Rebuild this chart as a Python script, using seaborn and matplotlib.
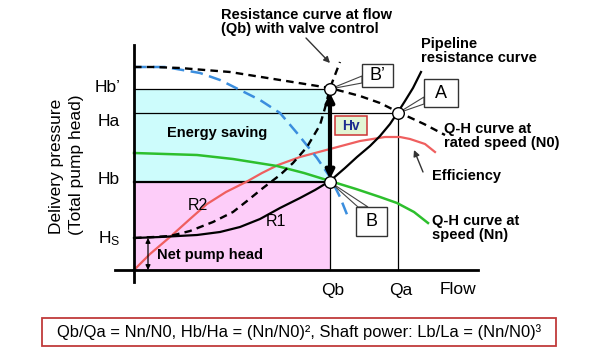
import matplotlib
matplotlib.use("Agg")
import matplotlib.pyplot as plt
import seaborn as sns
from matplotlib.patches import Rectangle, Polygon

# ---------------- data (schematic units: flow, head) ----------------
flow_tick_values = [196, 264]
flow_tick_labels = ["Qb", "Qa"]
head_tick_values = [181, 157, 88, 32]          # Hb', Ha, Hb, Hs
head_tick_labels = ["Hb\u2019", "Ha", "Hb", "H$_\\mathrm{S}$"]

qh_rated_flow = [0, 20, 46, 96, 146, 196, 226, 246, 264, 290, 311]
qh_rated_head = [203, 203, 202, 198, 190, 182, 174, 167, 158, 146, 135]

qh_valve_flow = [0, 31, 66, 86, 104, 126, 146, 163, 183, 196, 206, 214]
qh_valve_head = [203, 203, 197, 190, 181, 170, 157, 137, 112, 93, 73, 53]

qh_nn_flow = [0, 63, 99, 143, 170, 196, 222, 246, 263, 280, 294]
qh_nn_head = [117, 115, 111, 104, 97, 89, 81, 73, 67, 58, 47]

eff_flow = [0, 16, 36, 56, 73, 92, 112, 128, 144, 166, 196, 226, 251, 266, 276, 291, 301]
eff_head = [0, 16, 33, 51, 66, 78, 88, 97, 105, 113, 121, 129, 133, 133, 131, 126, 118]

r1_flow = [0, 26, 63, 86, 106, 126, 146, 166, 181, 196, 211, 223, 236, 246, 256, 264, 271, 279, 287]
r1_head = [32, 33, 35, 38, 43, 51, 62, 72, 80, 89, 102, 113, 124, 134, 146, 158, 169, 182, 198]

r2_flow = [0, 20, 36, 56, 79, 99, 113, 129, 146, 159, 173, 186, 191, 196, 201, 206]
r2_head = [32, 33, 34, 39, 48, 58, 69, 82, 95, 107, 123, 145, 162, 182, 195, 208]

Qb, Qa = flow_tick_values
Hbp, Ha, Hb, Hs = head_tick_values

# ---------------- figure ----------------
plt.rcParams['font.family'] = ['Liberation Sans', 'DejaVu Sans']
plt.rcParams['mathtext.fontset'] = 'custom'
plt.rcParams['mathtext.rm'] = 'Liberation Sans'
plt.rcParams['mathtext.it'] = 'Liberation Sans:italic'

fig = plt.figure(figsize=(6, 3.5), dpi=100)
ax = fig.add_axes([0, 0, 1, 1])
ax.set_xlim(-134, 466)
ax.set_ylim(-80, 270)
ax.axis('off')


def P(x, y):
    """layout helper: figure pixel -> axes units"""
    return (x - 134, 270 - y)


# shaded regions
ax.add_patch(Rectangle((0, 0), Qb, Hb, facecolor='#fdcdf9', edgecolor='none', zorder=0))
ax.add_patch(Rectangle((0, Hb), Qb, Hbp - Hb, facecolor='#cdfcfc', edgecolor='none', zorder=0))

# reference lines
ax.plot([0, Qb], [Hbp, Hbp], color='black', lw=0.9, zorder=1)
ax.plot([0, Qa], [Ha, Ha], color='black', lw=0.9, zorder=1)
ax.plot([0, Qb], [Hb, Hb], color='black', lw=1.6, zorder=1)
ax.plot([Qb, Qb], [0, Hbp], color='black', lw=0.9, zorder=1)
ax.plot([Qa, Qa], [0, Ha], color='black', lw=0.9, zorder=1)

# axes
ax.plot([0, 0], [-12, 225], color='black', lw=2, zorder=5)
ax.plot([-19, 344], [0, 0], color='black', lw=2, zorder=5)

# curves
sns.lineplot(x=eff_flow, y=eff_head, sort=False, estimator=None, ax=ax,
             color='#ef5f5f', lw=1.6, zorder=3)
sns.lineplot(x=qh_nn_flow, y=qh_nn_head, sort=False, estimator=None, ax=ax,
             color='#2dbf2d', lw=1.8, zorder=3)
sns.lineplot(x=qh_valve_flow, y=qh_valve_head, sort=False, estimator=None, ax=ax,
             color='#3b8ede', lw=1.8, linestyle=(0, (5, 2.6)), zorder=3)
sns.lineplot(x=qh_rated_flow, y=qh_rated_head, sort=False, estimator=None, ax=ax,
             color='black', lw=1.7, linestyle=(0, (3.2, 2.2)), zorder=3)
sns.lineplot(x=r2_flow, y=r2_head, sort=False, estimator=None, ax=ax,
             color='black', lw=1.7, linestyle=(0, (3.2, 2.2)), zorder=3)
sns.lineplot(x=r1_flow, y=r1_head, sort=False, estimator=None, ax=ax,
             color='black', lw=1.6, zorder=3)

# thick arrow Hv
ax.annotate('', xy=(Qb, Hbp - 4), xytext=(Qb, Hb + 3),
            arrowprops=dict(arrowstyle='<|-|>', color='black', lw=3, mutation_scale=12,
                            shrinkA=0, shrinkB=0), zorder=4)

# callout wedges and boxes
callouts = [
    ("B\u2019", (Qb, Hbp), [P(362, 76), P(362, 83)], (362, 64, 31, 23)),
    ("A", (Qa, Ha), [P(424, 97), P(424, 104)], (424, 79, 34, 28)),
    ("B", (Qb, Hb), [P(358, 207), P(368, 207)], (356, 207, 31, 29)),
]
for label, pt, edge, (bx, by, bw, bh) in callouts:
    ax.add_patch(Polygon([pt, edge[0], edge[1]], closed=True, facecolor='white',
                         edgecolor='#444444', lw=0.8, zorder=6))
    ax.add_patch(Rectangle(P(bx, by + bh), bw, bh, facecolor='white',
                           edgecolor='#333333', lw=1.0, zorder=7))
    cx, cy = P(bx + bw / 2, by + bh / 2)
    ax.text(cx, cy, label, ha='center', va='center', fontsize=13, zorder=8)

# points
sns.scatterplot(x=[Qb, Qa, Qb], y=[Hbp, Ha, Hb], ax=ax, s=70, color='white',
                edgecolor='black', linewidth=1.0, zorder=9)

# Hv box
ax.add_patch(Rectangle(P(335, 135), 32, 19, facecolor='#e2f5d4', edgecolor='#cc3333',
                       lw=1.1, zorder=6))
ax.text(*P(351, 126), "Hv", ha='center', va='center', fontsize=10, fontweight='bold',
        color='#1c2b8f', zorder=7)

# annotation texts
bold = dict(fontsize=10.5, fontweight='bold', zorder=8)
ax.text(*P(221, 22), "Resistance curve at flow\n(Qb) with valve control",
        ha='left', va='center', linespacing=1.05, **bold)
ax.annotate('', xy=P(330, 63), xytext=P(306, 38),
            arrowprops=dict(arrowstyle='-|>', color='#333333', lw=1, mutation_scale=9,
                            shrinkA=0, shrinkB=0))
ax.text(*P(421, 51), "Pipeline\nresistance curve", ha='left', va='center',
        linespacing=1.05, **bold)
ax.text(*P(444, 136), "Q-H curve at\nrated speed (N0)", ha='left', va='center',
        linespacing=1.05, **bold)
ax.text(*P(432, 176), "Efficiency", ha='left', va='center', **bold)
ax.annotate('', xy=P(414, 150), xytext=P(423, 172),
            arrowprops=dict(arrowstyle='-|>', color='#333333', lw=1, mutation_scale=9,
                            shrinkA=0, shrinkB=0))
ax.text(*P(432, 228), "Q-H curve at\nspeed (Nn)", ha='left', va='center',
        linespacing=1.05, **bold)
ax.text(*P(217, 133), "Energy saving", ha='center', va='center', **bold)
ax.text(*P(210, 255), "Net pump head", ha='center', va='center', **bold)
ax.text(*P(198, 206), "R2", ha='center', va='center', fontsize=11.5, zorder=8)
ax.text(*P(276, 221), "R1", ha='center', va='center', fontsize=11.5, zorder=8)

# net pump head double arrow
ax.annotate('', xy=P(148, 238), xytext=P(148, 270),
            arrowprops=dict(arrowstyle='<|-|>', color='black', lw=0.9, mutation_scale=7,
                            shrinkA=0, shrinkB=0))

# tick labels
head_label_y = [87, 122, 179, 239]
for lab, py in zip(head_tick_labels, head_label_y):
    ax.text(*P(120, py), lab, ha='right', va='center', fontsize=12.5)
for lab, val in zip(flow_tick_labels, flow_tick_values):
    ax.text(val + 3, P(0, 291)[1], lab, ha='center', va='center', fontsize=12.5)
ax.text(*P(458, 289), "Flow", ha='center', va='center', fontsize=12.5)

# y axis title
ax.text(*P(57, 166), "Delivery pressure", rotation=90, ha='center', va='center', fontsize=12.5)
ax.text(*P(77, 165), "(Total pump head)", rotation=90, ha='center', va='center', fontsize=12.5)

# formula box
ax.add_patch(Rectangle(P(42, 346), 514, 28, facecolor='white', edgecolor='#c03a3a', lw=1.3))
ax.text(*P(299, 332), "Qb/Qa = Nn/N0, Hb/Ha = (Nn/N0)\u00b2, Shaft power: Lb/La = (Nn/N0)\u00b3",
        ha='center', va='center', fontsize=11.9)

fig.savefig("out.png", dpi=100)
